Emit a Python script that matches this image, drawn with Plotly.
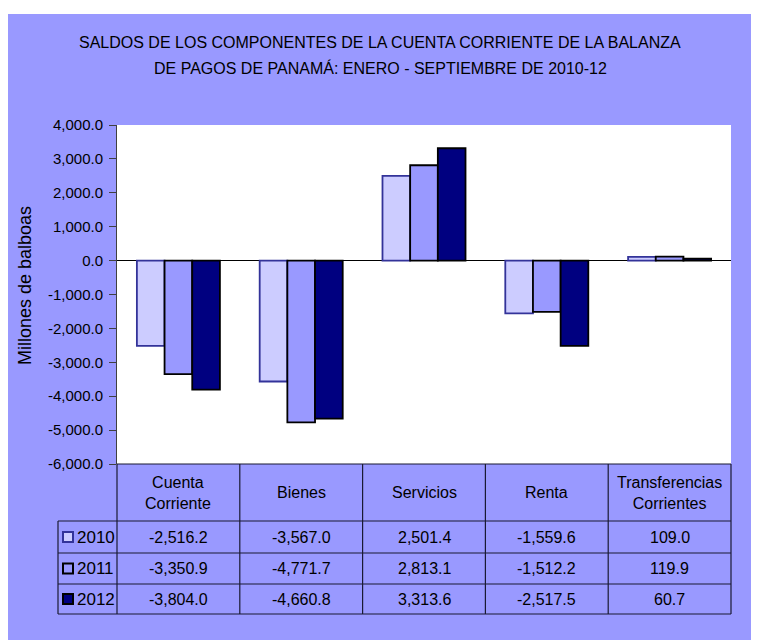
import plotly.graph_objects as go

categories = ["Cuenta<br>Corriente", "Bienes", "Servicios", "Renta", "Transferencias<br>Corrientes"]
years = ["2010", "2011", "2012"]
values_2010 = [-2516.2, -3567.0, 2501.4, -1559.6, 109.0]
values_2011 = [-3350.9, -4771.7, 2813.1, -1512.2, 119.9]
values_2012 = [-3804.0, -4660.8, 3313.6, -2517.5, 60.7]
series = [values_2010, values_2011, values_2012]
y_ticks = [4000, 3000, 2000, 1000, 0, -1000, -2000, -3000, -4000, -5000, -6000]
title_lines = ["SALDOS DE LOS COMPONENTES DE LA CUENTA CORRIENTE DE LA BALANZA",
               "DE PAGOS DE PANAMÁ: ENERO - SEPTIEMBRE DE 2010-12"]

fills = ["#CCCCFF", "#9999FF", "#000080"]
lines = ["#333399", "#000000", "#000000"]
BG = "#9999FF"
SANS = "Liberation Sans, Arial"

# figure sits at an 8px page offset
W, H = 751, 632
L, R, T, B = 109, 28, 117, 176
PW = W - L - R
PH = H - T - B

def px(x):
    return (x - L) / PW

def py(y):
    return (H - B - y) / PH

xs = list(range(len(categories)))

fig = go.Figure()
for name, vals, fc, lc in zip(years, series, fills, lines):
    fig.add_trace(go.Bar(
        x=xs, y=vals, name=name,
        marker=dict(color=fc, line=dict(color=lc, width=1.8)),
        showlegend=False,
    ))

shapes = []
# white strip at top edge
shapes.append(dict(type="rect", xref="paper", yref="paper", x0=px(-2), x1=px(W + 2), y0=py(6), y1=py(-2),
                   fillcolor="white", line=dict(width=0), layer="above"))

# table grid
top = H - B
row_y = [top, top + 57, top + 89, top + 120, top + 150]
left_years = 50
col_w = PW / len(categories)
lc_ = "#1a1a33"
shapes.append(dict(type="line", xref="paper", yref="paper", x0=px(L), x1=px(L + PW), y0=py(row_y[0]), y1=py(row_y[0]),
                   line=dict(color=lc_, width=1.2)))
for yy in row_y[1:]:
    shapes.append(dict(type="line", xref="paper", yref="paper", x0=px(left_years), x1=px(L + PW), y0=py(yy), y1=py(yy),
                       line=dict(color=lc_, width=1.2)))
shapes.append(dict(type="line", xref="paper", yref="paper", x0=px(left_years), x1=px(left_years),
                   y0=py(row_y[1]), y1=py(row_y[-1]), line=dict(color=lc_, width=1.2)))
for k in range(len(categories) + 1):
    xx = L + k * col_w
    shapes.append(dict(type="line", xref="paper", yref="paper", x0=px(xx), x1=px(xx), y0=py(row_y[0]), y1=py(row_y[-1]),
                       line=dict(color=lc_, width=1.2)))

annotations = []
for i, (name, vals) in enumerate(zip(years, series)):
    yc = (row_y[i + 1] + row_y[i + 2]) / 2
    shapes.append(dict(type="rect", xref="paper", yref="paper", x0=px(55), x1=px(65), y0=py(yc + 5), y1=py(yc - 5),
                       fillcolor=fills[i], line=dict(color=lines[i], width=2)))
    annotations.append(dict(xref="paper", yref="paper", x=px(67), y=py(yc), text=name, showarrow=False,
                            xanchor="left", yanchor="middle", font=dict(family=SANS, size=17, color="black")))
    for k, v in enumerate(vals):
        annotations.append(dict(xref="x", yref="paper", x=xs[k], y=py(yc), text=f"{v:,.1f}", showarrow=False,
                                xanchor="center", yanchor="middle", font=dict(family=SANS, size=16, color="black")))
for k, c in enumerate(categories):
    annotations.append(dict(xref="x", yref="paper", x=xs[k], y=py((row_y[0] + row_y[1]) / 2), text=c, showarrow=False,
                            xanchor="center", yanchor="middle", font=dict(family=SANS, size=16, color="black")))

for j, (t, yy) in enumerate(zip(title_lines, [34, 60])):
    annotations.append(dict(xref="paper", yref="paper", x=px(372), y=py(yy), text=t,
                            showarrow=False, xanchor="center", yanchor="middle",
                            font=dict(family=SANS, size=16, color="black")))

annotations.append(dict(xref="paper", yref="paper", x=px(17), y=py(278), text="Millones de balboas",
                        textangle=-90, showarrow=False, xanchor="center", yanchor="middle",
                        font=dict(family=SANS, size=18, color="black")))

tick_text = [f"{v:,.1f}" for v in y_ticks]

fig.update_layout(
    width=W, height=H,
    margin=dict(l=L, r=R, t=T, b=B),
    paper_bgcolor=BG, plot_bgcolor="white",
    barmode="group", bargap=0.324, bargroupgap=0,
    shapes=shapes, annotations=annotations,
    xaxis=dict(range=[-0.5, len(categories) - 0.5], showticklabels=False, ticks="", showgrid=False,
               zeroline=False, showline=False, fixedrange=True),
    yaxis=dict(range=[-6000, 4000], tickvals=y_ticks, ticktext=tick_text, ticks="outside", ticklen=7,
               ticklabelstandoff=3,
               tickcolor="#404040", showline=True, linecolor="#404040", linewidth=1, showgrid=False,
               zeroline=True, zerolinecolor="black", zerolinewidth=1,
               tickfont=dict(family=SANS, size=15, color="black")),
)

fig.write_html("out.html")
